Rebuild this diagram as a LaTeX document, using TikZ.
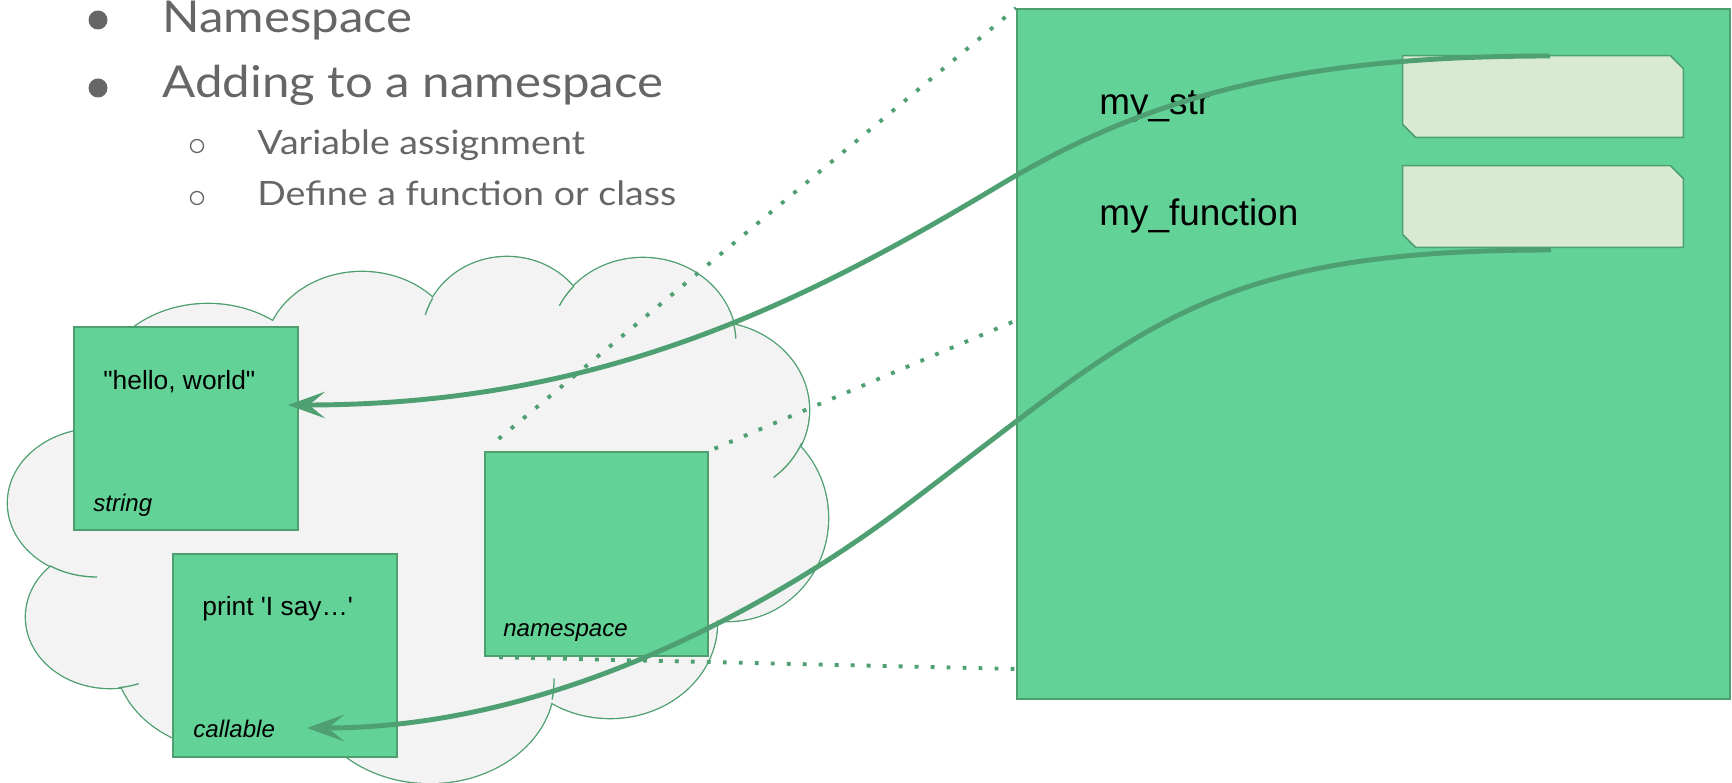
\documentclass[tikz,border=0pt]{standalone}
\usepackage{fontspec}
\setmainfont{Liberation Sans}
\newfontfamily\slidefont[FakeStretch=1.12]{Lato}
\usetikzlibrary{arrows.meta}
\usetikzlibrary{calc}
\definecolor{boxgreen}{HTML}{62D296}
\definecolor{edgegreen}{HTML}{4E9F70}
\definecolor{refgreen}{HTML}{4EA073}
\definecolor{cloudgray}{HTML}{F3F3F3}
\definecolor{slotfill}{HTML}{D9EAD3}
\definecolor{slidegray}{HTML}{666666}

\begin{document}
\begin{tikzpicture}[x=0.02cm,y=-0.02cm]
\tikzstyle{lobe}=[draw=edgegreen,line width=1.5pt,fill=cloudgray]
\tikzstyle{stub}=[draw=edgegreen,line width=0.75pt]
\tikzstyle{obj}=[draw=edgegreen,fill=boxgreen,line width=1.1pt,inner sep=0,minimum width=4.48cm,minimum height=4.06cm]
\tikzstyle{valtext}=[anchor=base west,inner sep=0,font=\fontsize{15}{18}\selectfont]
\tikzstyle{kindtext}=[anchor=base west,inner sep=0,font=\fontsize{13.7}{16}\selectfont\itshape]
\tikzstyle{slotbox}=[inner sep=0,minimum width=5.6cm,minimum height=1.62cm]
\tikzstyle{varname}=[anchor=base west,inner sep=0,font=\fontsize{21}{25}\selectfont]
\tikzstyle{zoomline}=[draw=refgreen,line width=2.2pt,dash pattern=on 2.2pt off 6.9pt]
\tikzstyle{refline}=[draw=refgreen,line width=2.8pt,-{Stealth[length=21pt,width=15pt,inset=9pt]}]
\tikzstyle{bulletitem}=[anchor=base west,inner sep=0,text=slidegray,font=\slidefont\fontsize{25}{30}\selectfont]
\tikzstyle{subitem}=[anchor=base west,inner sep=0,text=slidegray,font=\slidefont\fontsize{19.1}{23}\selectfont]
\useasboundingbox (0,0) rectangle (1732,783);

\fill [slidegray] (98,20) circle [radius=9.5];
\fill [slidegray] (98,88) circle [radius=9.5];
\draw [slidegray, line width=0.75pt] (197,146) circle [radius=6.5];
\draw [slidegray, line width=0.75pt] (197,198) circle [radius=6.5];
\node [bulletitem] (item1) at (162,33) {Namespace};
\node [bulletitem] (item2) at (162,98) {Adding to a namespace};
\node [subitem] (sub1) at (257,155) {Variable assignment};
\node [subitem] (sub2) at (257,206) {Define a function or class};

\foreach \cx/\cy/\rx/\ry in {97/503/89/74, 110/617/84/71, 230/655/115/95, 430/682/124/101, 610/623/107/95, 728/518/100/103, 710/410/99/88, 643/343/93/85, 507/337/85/80, 362/354/97/82, 208/394/110/90}
  \draw [lobe] (\cx,\cy) ellipse [x radius=\rx, y radius=\ry];
\fill [cloudgray] (150,400) -- (400,330) -- (650,340) -- (760,450) -- (700,600) -- (560,680) -- (300,700) -- (80,620) -- (60,500) -- cycle;
\foreach \cx/\cy/\rx/\ry in {97/503/89/74, 110/617/84/71, 230/655/115/95, 430/682/124/101, 610/623/107/95, 728/518/100/103, 710/410/99/88, 643/343/93/85, 507/337/85/80, 362/354/97/82, 208/394/110/90}
  \fill [cloudgray] (\cx,\cy) ellipse [x radius=\rx, y radius=\ry];
\foreach \cx/\cy/\rx/\ry/\a/\b in {97/503/89/74/122/90, 110/617/84/71/84/70, 430/682/124/101/10/-2, 710/410/99/88/22/50, 643/343/93/85/-14/-3, 643/343/93/85/-138/-154, 507/337/85/80/-151/-164}
  \draw [stub] (\cx,\cy) ++(\a:{\rx} and {\ry}) arc [start angle=\a, end angle=\b, x radius=\rx, y radius=\ry];

\node [obj] (strobj) at (186,428.5) {};
\node [obj] (callobj) at (285,655.5) {};
\node [obj, minimum width=4.46cm, minimum height=4.08cm] (nsobj) at (596.5,554) {};
\node [valtext] (strval) at (103,390) {\textquotedbl hello, world\textquotedbl};
\node [kindtext] (strkind) at (93,512) {string};
\node [valtext] (callval) at (202,616) {print \textquotesingle I say…\textquotesingle};
\node [kindtext] (callkind) at (193,738) {callable};
\node [kindtext] (nskind) at (503,637) {namespace};

\coordinate (zoomB) at (1017,320);
\coordinate (zoomC) at (1017,669);
\node [obj, minimum width=14.26cm, minimum height=13.8cm] (bigns) at (1373.5,354) {};
\draw [zoomline, shorten <=0.38cm] (nsobj.north west) -- (bigns.north west);
\draw [zoomline, shorten <=0.12cm] (nsobj.north east) -- (zoomB);
\draw [zoomline, shorten <=0.3cm] (nsobj.south west) -- (zoomC);
\node [obj, minimum width=14.26cm, minimum height=13.8cm] at (bigns) {};

\node [slotbox] (strslot) at (1543,96.5) {};
\node [slotbox] (fnslot) at (1543,206.5) {};
\foreach \s in {strslot,fnslot}
  \draw [draw=edgegreen, fill=slotfill, line width=0.9pt] (\s.north west) -- ([xshift=-0.26cm]\s.north east) -- ([yshift=-0.26cm]\s.north east) -- (\s.south east) -- ([xshift=0.26cm]\s.south west) -- ([yshift=0.26cm]\s.south west) -- cycle;
\node [varname] (strname) at (1099,115) {my\_str};
\node [varname] (fnname) at (1099,226) {my\_function};

\coordinate (strref) at (1550,56);
\coordinate (strtip) at (288,405);
\coordinate (fnref) at (1551,250);
\coordinate (fntip) at (307,728);
\draw [refline] (strref) .. controls (1300,56) and (1150,95) .. (1000,185) .. controls (800,305) and (600,405) .. (strtip);
\draw [refline] (fnref) .. controls (1200,250) and (1140,330) .. (900,510) .. controls (780,600) and (560,728) .. (fntip);
\end{tikzpicture}
\end{document}
